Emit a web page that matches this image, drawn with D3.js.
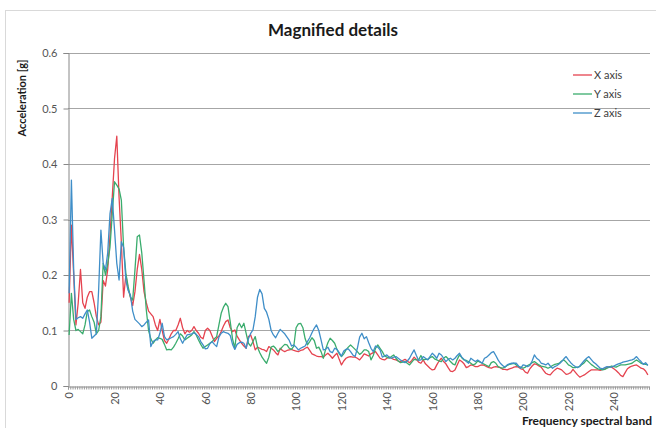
<!DOCTYPE html>
<html><head><meta charset="utf-8">
<script src="https://cdn.jsdelivr.net/npm/d3@7"></script>
<style>
html,body{margin:0;padding:0;background:#fff;}
svg{display:block;}
</style>
</head><body>
<svg id="chart" width="656" height="428"></svg>
<script>
const seriesNames = ["X axis", "Y axis", "Z axis"];
const seriesColors = ["#e5434f", "#3aac6d", "#3f8ec8"];
const xAxisValues = [0.15,0.29,0.20,0.11,0.15,0.21,0.15,0.14,0.16,0.17,0.17,0.15,0.125,0.11,0.115,0.19,0.18,0.21,0.27,0.34,
0.41,0.45,0.34,0.26,0.16,0.20,0.175,0.16,0.145,0.17,0.21,0.237,0.21,0.17,0.15,0.135,0.13,0.125,0.11,0.10,
0.12,0.10,0.082,0.077,0.085,0.094,0.10,0.10,0.11,0.122,0.105,0.094,0.10,0.097,0.10,0.107,0.100,0.095,0.088,0.085,
0.100,0.104,0.100,0.090,0.080,0.086,0.090,0.098,0.108,0.116,0.119,0.105,0.098,0.101,0.090,0.083,0.077,0.072,0.068,0.089,
0.092,0.080,0.065,0.070,0.068,0.066,0.065,0.062,0.071,0.068,0.065,0.060,0.056,0.068,0.064,0.062,0.064,0.065,0.066,0.064,
0.063,0.062,0.064,0.065,0.068,0.070,0.064,0.058,0.056,0.054,0.053,0.053,0.052,0.056,0.059,0.055,0.050,0.055,0.059,0.048,
0.038,0.045,0.050,0.052,0.053,0.052,0.052,0.050,0.047,0.052,0.058,0.056,0.054,0.058,0.060,0.062,0.056,0.050,0.048,0.047,
0.050,0.052,0.050,0.048,0.047,0.045,0.044,0.046,0.048,0.045,0.042,0.046,0.052,0.048,0.043,0.041,0.047,0.040,0.036,0.032,
0.029,0.030,0.038,0.045,0.050,0.044,0.040,0.033,0.027,0.026,0.029,0.038,0.047,0.044,0.040,0.033,0.035,0.038,0.037,0.035,
0.035,0.037,0.038,0.037,0.035,0.033,0.032,0.034,0.035,0.034,0.033,0.030,0.030,0.029,0.031,0.032,0.034,0.035,0.034,0.031,
0.030,0.025,0.023,0.031,0.036,0.040,0.039,0.036,0.034,0.028,0.023,0.021,0.020,0.025,0.029,0.032,0.031,0.029,0.025,0.021,
0.022,0.024,0.030,0.025,0.020,0.016,0.018,0.020,0.023,0.026,0.029,0.029,0.029,0.029,0.028,0.030,0.031,0.033,0.035,0.034,
0.031,0.028,0.024,0.019,0.017,0.024,0.031,0.034,0.036,0.037,0.038,0.035,0.032,0.031,0.027,0.020];
const yAxisValues = [0.092,0.167,0.12,0.10,0.102,0.098,0.094,0.11,0.134,0.137,0.125,0.115,0.094,0.10,0.125,0.221,0.20,0.22,0.25,0.31,
0.368,0.362,0.355,0.335,0.25,0.203,0.179,0.16,0.155,0.209,0.269,0.272,0.24,0.19,0.137,0.10,0.085,0.077,0.083,0.087,
0.086,0.084,0.075,0.065,0.066,0.065,0.07,0.077,0.085,0.094,0.09,0.083,0.086,0.089,0.092,0.098,0.092,0.083,0.075,0.068,
0.071,0.074,0.077,0.080,0.085,0.089,0.11,0.131,0.142,0.149,0.143,0.115,0.085,0.068,0.105,0.113,0.105,0.113,0.095,0.077,
0.072,0.080,0.089,0.070,0.060,0.052,0.046,0.041,0.052,0.070,0.072,0.068,0.062,0.066,0.071,0.075,0.074,0.068,0.066,0.072,
0.105,0.112,0.113,0.105,0.085,0.074,0.080,0.087,0.082,0.068,0.070,0.062,0.050,0.066,0.078,0.086,0.082,0.077,0.066,0.058,
0.053,0.058,0.065,0.070,0.074,0.070,0.066,0.062,0.057,0.060,0.065,0.065,0.062,0.047,0.055,0.068,0.074,0.068,0.062,0.054,
0.052,0.050,0.053,0.056,0.050,0.045,0.042,0.043,0.044,0.041,0.038,0.043,0.048,0.047,0.047,0.055,0.047,0.048,0.048,0.051,
0.053,0.049,0.047,0.045,0.044,0.050,0.053,0.049,0.044,0.040,0.038,0.048,0.056,0.051,0.047,0.046,0.044,0.041,0.038,0.040,
0.045,0.043,0.041,0.039,0.037,0.035,0.042,0.044,0.041,0.035,0.033,0.032,0.034,0.037,0.039,0.040,0.041,0.038,0.035,0.034,
0.032,0.034,0.037,0.039,0.042,0.044,0.041,0.038,0.036,0.035,0.034,0.032,0.034,0.037,0.039,0.040,0.041,0.045,0.047,0.043,
0.038,0.036,0.033,0.033,0.034,0.035,0.039,0.042,0.047,0.043,0.039,0.036,0.033,0.031,0.030,0.029,0.030,0.032,0.034,0.036,
0.035,0.034,0.036,0.038,0.038,0.038,0.039,0.040,0.041,0.044,0.047,0.044,0.041,0.040,0.039,0.038];
const zAxisValues = [0.167,0.371,0.21,0.12,0.123,0.125,0.122,0.13,0.137,0.115,0.086,0.09,0.094,0.173,0.281,0.221,0.209,0.24,0.31,0.338,
0.281,0.221,0.191,0.26,0.25,0.19,0.172,0.164,0.135,0.12,0.116,0.112,0.107,0.11,0.115,0.119,0.071,0.08,0.083,0.083,
0.095,0.113,0.089,0.083,0.085,0.087,0.089,0.093,0.098,0.085,0.077,0.085,0.092,0.093,0.094,0.096,0.093,0.089,0.080,0.074,
0.067,0.068,0.076,0.080,0.075,0.071,0.088,0.095,0.098,0.096,0.095,0.091,0.075,0.066,0.075,0.078,0.079,0.077,0.068,0.085,
0.095,0.101,0.125,0.160,0.174,0.166,0.140,0.133,0.120,0.100,0.092,0.087,0.095,0.102,0.098,0.094,0.088,0.082,0.072,0.074,
0.070,0.065,0.068,0.070,0.072,0.080,0.087,0.096,0.104,0.110,0.100,0.083,0.065,0.066,0.070,0.062,0.060,0.068,0.066,0.060,
0.054,0.063,0.066,0.067,0.062,0.056,0.053,0.068,0.088,0.095,0.085,0.089,0.078,0.068,0.062,0.072,0.070,0.065,0.052,0.054,
0.056,0.052,0.050,0.052,0.053,0.050,0.047,0.044,0.042,0.045,0.050,0.058,0.065,0.055,0.046,0.047,0.053,0.050,0.047,0.053,
0.059,0.055,0.050,0.059,0.056,0.050,0.044,0.048,0.050,0.047,0.050,0.055,0.059,0.052,0.048,0.044,0.041,0.050,0.047,0.044,
0.047,0.044,0.041,0.050,0.052,0.056,0.060,0.062,0.055,0.047,0.041,0.037,0.034,0.038,0.040,0.041,0.041,0.041,0.036,0.032,
0.038,0.037,0.035,0.037,0.045,0.056,0.050,0.047,0.041,0.040,0.038,0.041,0.036,0.032,0.035,0.037,0.040,0.044,0.049,0.053,
0.047,0.042,0.038,0.035,0.033,0.036,0.041,0.046,0.050,0.053,0.048,0.043,0.040,0.036,0.032,0.031,0.033,0.035,0.034,0.034,
0.036,0.038,0.040,0.041,0.043,0.044,0.045,0.046,0.047,0.049,0.053,0.048,0.044,0.039,0.042,0.037];
const xTickValues = [0,20,40,60,80,100,120,140,160,180,200,220,240];
const yTickValues = [0,0.1,0.2,0.3,0.4,0.5,0.6];
const titleText = "Magnified details";
const xTitle = "Frequency spectral band";
const yTitle = "Acceleration [g]";

const series = [xAxisValues, yAxisValues, zAxisValues];
const nCat = xAxisValues.length;
const categories = d3.range(nCat);

const svg = d3.select("#chart");
const L = 68, R = 649, T = 53, B = 386;
const x = d3.scaleLinear().domain([-0.5, nCat - 0.5]).range([L, R]);
const y = d3.scaleLinear().domain([0, 0.6]).range([B, T]);
const font = "Lato, 'Open Sans', sans-serif";

// chart frame
svg.append("rect").attr("x", 5.5).attr("y", 10.5).attr("width", 720).attr("height", 520)
  .attr("fill", "none").attr("stroke", "#d9d9d9");

// gridlines
svg.append("g").selectAll("line").data(yTickValues.filter(d => d > 0)).join("line")
  .attr("x1", L).attr("x2", R + 1)
  .attr("y1", d => Math.round(y(d)) + 0.5).attr("y2", d => Math.round(y(d)) + 0.5)
  .attr("stroke", "#a6a6a6").attr("stroke-width", 1);

// y axis
const yAxis = svg.append("g").attr("transform", `translate(${L + 0.5},0)`)
  .call(d3.axisLeft(y).tickValues(yTickValues).tickSize(5).tickPadding(6)
    .tickFormat(d => d === 0 ? "0" : d.toFixed(1)));
yAxis.select(".domain").attr("stroke", "#888");
yAxis.selectAll(".tick line").attr("stroke", "#888");
yAxis.selectAll(".tick text").attr("font-family", font).attr("font-size", 11).attr("fill", "#555");

// x axis comb of category ticks
const boundaries = d3.range(nCat + 1).map(i => i - 0.5);
const xComb = svg.append("g").attr("transform", `translate(0,${B + 0.5})`)
  .call(d3.axisBottom(x).tickValues(boundaries).tickSize(3).tickFormat(""));
xComb.select(".domain").attr("stroke", "#888");
xComb.selectAll(".tick line").attr("stroke", "#999");

// x labels
const xLab = svg.append("g").attr("transform", `translate(0,${B})`)
  .call(d3.axisBottom(x).tickValues(xTickValues).tickSize(0).tickFormat(d3.format("d")));
xLab.select(".domain").remove();
xLab.selectAll(".tick text")
  .attr("font-family", font).attr("font-size", 11).attr("fill", "#555")
  .attr("transform", "rotate(-90)")
  .attr("text-anchor", "end").attr("x", -6).attr("y", 0).attr("dy", "0.35em");

// lines
const line = d3.line().x((d, i) => x(categories[i])).y(d => y(d));
svg.append("g").selectAll("path").data(series).join("path")
  .attr("d", d => line(d))
  .attr("fill", "none")
  .attr("stroke", (d, i) => seriesColors[i])
  .attr("stroke-width", 1.3)
  .attr("stroke-linejoin", "round");

// title
svg.append("text").attr("x", 333).attr("y", 36).attr("text-anchor", "middle")
  .attr("font-family", font).attr("font-weight", "bold").attr("font-size", 17).attr("fill", "#1a1a1a")
  .text(titleText);

// axis titles
svg.append("text").attr("transform", "translate(26,98) rotate(-90)").attr("text-anchor", "middle")
  .attr("font-family", font).attr("font-weight", "bold").attr("font-size", 11).attr("fill", "#1a1a1a")
  .text(yTitle);
svg.append("text").attr("x", 652).attr("y", 425).attr("text-anchor", "end")
  .attr("font-family", font).attr("font-weight", "bold").attr("font-size", 12).attr("fill", "#1a1a1a")
  .text(xTitle);

// legend
const leg = svg.append("g").selectAll("g").data(seriesNames).join("g")
  .attr("transform", (d, i) => `translate(573,${75 + i * 19})`);
leg.append("line").attr("x1", 0).attr("x2", 19).attr("y1", 0).attr("y2", 0)
  .attr("stroke", (d, i) => seriesColors[i]).attr("stroke-width", 1.3);
leg.append("text").attr("x", 21).attr("y", 0).attr("dy", "0.35em")
  .attr("font-family", font).attr("font-size", 11).attr("fill", "#404040")
  .text(d => d);
</script>
</body></html>
